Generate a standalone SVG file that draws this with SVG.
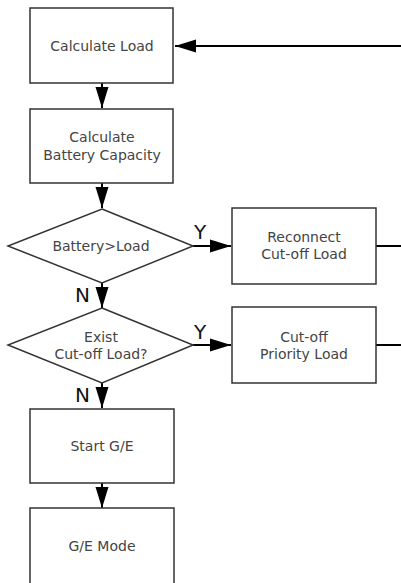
<svg xmlns="http://www.w3.org/2000/svg" width="401" height="583" viewBox="0 0 401 583">
<style>
.box{fill:#fff;stroke:#333;stroke-width:1.5}
.t{font-family:"DejaVu Sans","Noto Sans",sans-serif;font-size:14px;fill:#444;text-anchor:middle}
.yn{font-family:"DejaVu Sans","Noto Sans",sans-serif;font-size:20px;fill:#111}
.c{stroke:#000;stroke-width:2;fill:none}
</style>
<defs>
<marker id="ah" markerUnits="userSpaceOnUse" markerWidth="22" markerHeight="14" refX="21" refY="7" orient="auto" viewBox="0 0 22 14">
<path d="M0,0.5 L21,7 L0,13.5 z" fill="#000"/>
</marker>
</defs>
<rect width="401" height="583" fill="#fff"/>
<g id="connectors">
<line class="c" x1="401" y1="46" x2="175" y2="46" marker-end="url(#ah)"/>
<line class="c" x1="102" y1="83" x2="102" y2="108" marker-end="url(#ah)"/>
<line class="c" x1="102" y1="183" x2="102" y2="208" marker-end="url(#ah)"/>
<line class="c" x1="193" y1="246" x2="231" y2="246" marker-end="url(#ah)"/>
<line class="c" x1="376" y1="246" x2="401" y2="246"/>
<line class="c" x1="102" y1="283" x2="102" y2="308" marker-end="url(#ah)"/>
<line class="c" x1="193" y1="345" x2="231" y2="345" marker-end="url(#ah)"/>
<line class="c" x1="376" y1="345" x2="401" y2="345"/>
<line class="c" x1="102" y1="383" x2="102" y2="408" marker-end="url(#ah)"/>
<line class="c" x1="102" y1="483" x2="102" y2="508" marker-end="url(#ah)"/>
<text class="yn" x="194" y="239">Y</text>
<text class="yn" x="194" y="339">Y</text>
<text class="yn" x="75" y="302">N</text>
<text class="yn" x="75" y="402">N</text>
</g>
<g id="calc-load">
<rect class="box" x="30" y="8" width="143" height="75"/>
<text class="t" x="102" y="51">Calculate Load</text>
</g>
<g id="calc-battery">
<rect class="box" x="30" y="109" width="143" height="74"/>
<text class="t" x="102" y="142">Calculate</text>
<text class="t" x="102" y="160">Battery Capacity</text>
</g>
<g id="battery-load">
<polygon class="box" points="102,209 193,246 102,283 8,246"/>
<text class="t" x="101" y="251">Battery&gt;Load</text>
</g>
<g id="reconnect">
<rect class="box" x="232" y="208" width="144" height="76"/>
<text class="t" x="304" y="242">Reconnect</text>
<text class="t" x="304" y="259">Cut-off Load</text>
</g>
<g id="exist-cutoff">
<polygon class="box" points="102,308 193,345 102,383 8,345"/>
<text class="t" x="101" y="342">Exist</text>
<text class="t" x="101" y="359">Cut-off Load?</text>
</g>
<g id="cutoff-priority">
<rect class="box" x="232" y="307" width="144" height="76"/>
<text class="t" x="304" y="342">Cut-off</text>
<text class="t" x="304" y="359">Priority Load</text>
</g>
<g id="start-ge">
<rect class="box" x="30" y="409" width="144" height="74"/>
<text class="t" x="102" y="451">Start G/E</text>
</g>
<g id="ge-mode">
<rect class="box" x="30" y="508" width="144" height="90"/>
<text class="t" x="102" y="551">G/E Mode</text>
</g>
</svg>
